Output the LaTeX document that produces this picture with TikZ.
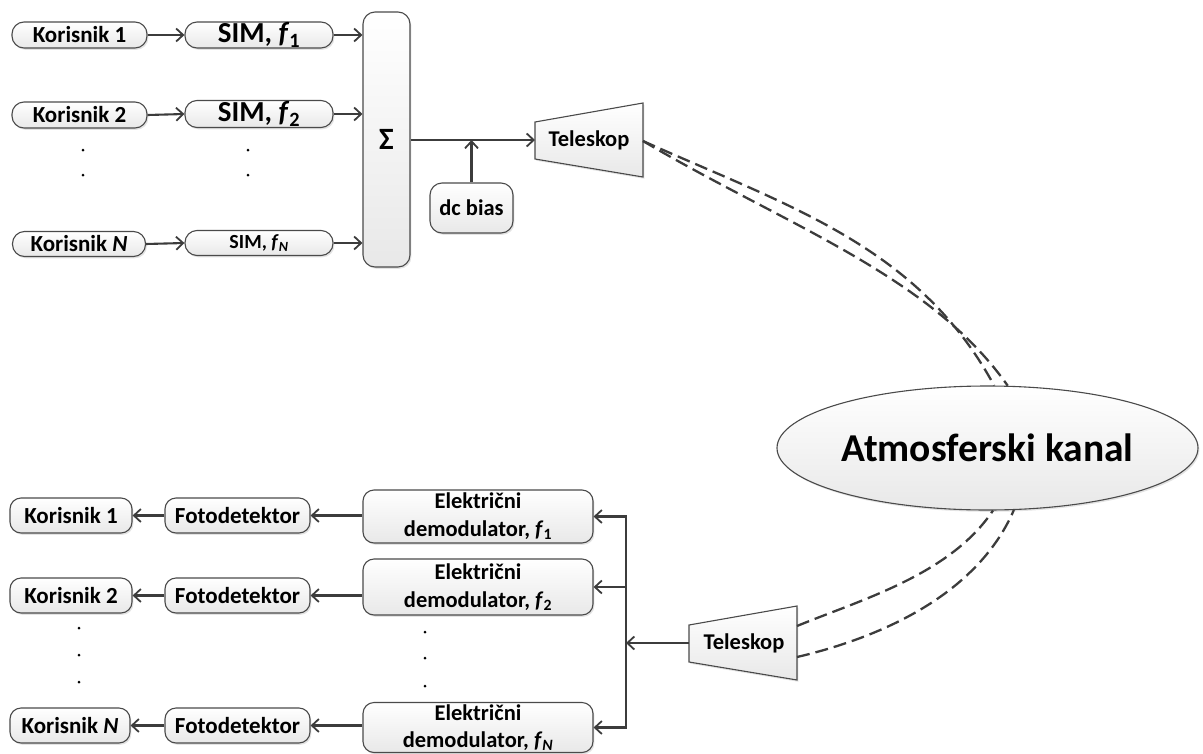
\documentclass[tikz,border=0pt]{standalone}
\usepackage{fontspec}
\setmainfont{Carlito}
\usetikzlibrary{arrows.meta,shapes.geometric,shadows}
\definecolor{ln}{HTML}{3C3C3C}
\definecolor{bd}{HTML}{4A4A4A}
\begin{document}
\begin{tikzpicture}[x=1pt,y=-1pt,
  box/.style={draw=bd, line width=1.1pt, rounded corners=11pt, top color=white, bottom color=black!9,
    drop shadow={shadow xshift=1.4pt, shadow yshift=-1.8pt, opacity=0.22}, inner sep=0pt, align=center,
    font=\bfseries\fontsize{23}{28}\selectfont},
  conn/.style={draw=ln, line width=2.1pt, -{Straight Barb[length=7pt,width=13pt,line width=1.8pt]}},
  wire/.style={draw=ln, line width=2.1pt},
  beam/.style={draw=ln, line width=2.3pt, dash pattern=on 13pt off 6pt},
  lbl/.style={font=\bfseries\fontsize{22.5}{26}\selectfont, inner sep=0pt},
  dotm/.style={fill=black}
  ]
\useasboundingbox (0,0) rectangle (1203,753);

% ---------------- transmitter ----------------
\node[box, minimum width=135pt, minimum height=26pt, rounded corners=12pt] (k1) at (79.5,35) {Korisnik 1};
\node[box, minimum width=135pt, minimum height=26pt, rounded corners=12pt] (k2) at (79.5,115) {Korisnik 2};
\node[box, minimum width=133pt, minimum height=25pt, rounded corners=12pt] (kN) at (79,244) {Korisnik \textit{N}};
\node[box, minimum width=148pt, minimum height=26pt, rounded corners=12pt, font=\bfseries\fontsize{29}{30}\selectfont] (s1) at (259,35) {SIM, \textit{f}\textsubscript{1}};
\node[box, minimum width=148pt, minimum height=27pt, rounded corners=12pt, font=\bfseries\fontsize{29}{30}\selectfont] (s2) at (259,114) {SIM, \textit{f}\textsubscript{2}};
\node[box, minimum width=148pt, minimum height=25pt, rounded corners=12pt, font=\bfseries\fontsize{20}{24}\selectfont] (sN) at (259,243) {SIM, \textit{f}\textsubscript{\textit{N}}};
\node[box, minimum width=47pt, minimum height=255pt, rounded corners=12pt, font=\bfseries\fontsize{31}{32}\selectfont] (sum) at (386.5,139.5) {Σ};
\node[box, minimum width=83pt, minimum height=50pt, rounded corners=12pt, font=\bfseries\fontsize{22.5}{26}\selectfont] (dc) at (471.5,208) {dc bias};

\fill[dotm] (83,150) circle (1.5) (83,175) circle (1.5) (248,150) circle (1.5) (248,175) circle (1.5);

\draw[draw=bd, line width=1.1pt, top color=white, bottom color=black!9,
  drop shadow={shadow xshift=1.4pt, shadow yshift=-1.8pt, opacity=0.22}]
  (535,122) -- (643,103) -- (643,177) -- (535,159) -- cycle;
\node[lbl] (tel1) at (589,140) {Teleskop};
\coordinate (tel1l) at (535,140);
\coordinate (tel1r) at (643,141);

\draw[conn] (k1.east) -- (s1.west);
\draw[conn] (k2.east) -- (s2.west);
\draw[conn] (kN.east) -- (sN.west);
\draw[conn] (s1.east) -- (s1.east -| sum.west);
\draw[conn] (s2.east) -- (s2.east -| sum.west);
\draw[conn] (sN.east) -- (sN.east -| sum.west);
\draw[conn] (sum.east |- tel1l) -- (tel1l);
\draw[conn] (dc.north) -- (dc.north |- tel1l);

% ---------------- channel ----------------
\node[ellipse, draw=bd, line width=1.1pt, top color=white, bottom color=black!9,
  drop shadow={shadow xshift=1.4pt, shadow yshift=-1.8pt, opacity=0.22},
  minimum width=421pt, minimum height=124pt, inner sep=0pt,
  font=\bfseries\fontsize{39.5}{42}\selectfont] (atm) at (987.5,448) {Atmosferski kanal};

\draw[beam] (tel1r) .. controls (785,205) and (918,245) .. (atm.84);
\draw[beam] (tel1r) .. controls (785,225) and (930,275) .. (atm.72);

% ---------------- receiver ----------------
\draw[draw=bd, line width=1.1pt, top color=white, bottom color=black!9,
  drop shadow={shadow xshift=1.4pt, shadow yshift=-1.8pt, opacity=0.22}]
  (689,625) -- (797,606) -- (797,680) -- (689,662) -- cycle;
\node[lbl] (tel2) at (744,643) {Teleskop};
\coordinate (tel2l) at (689,643);
\coordinate (tel2ru) at (797,626);
\coordinate (tel2rd) at (797,657);

\draw[beam] (tel2ru) .. controls (860,600) and (950,575) .. (atm.-85);
\draw[beam] (tel2rd) .. controls (870,640) and (975,600) .. (atm.-67);

\node[box, minimum width=230pt, minimum height=53pt, font=\bfseries\fontsize{22.5}{28}\selectfont] (d1) at (478,516.5) {Električni\\demodulator, \textit{f}\textsubscript{1}};
\node[box, minimum width=230pt, minimum height=56pt, font=\bfseries\fontsize{22.5}{28}\selectfont] (d2) at (478,587) {Električni\\demodulator, \textit{f}\textsubscript{2}};
\node[box, minimum width=230pt, minimum height=50pt, font=\bfseries\fontsize{22.5}{27}\selectfont] (dN) at (478,727.5) {Električni\\demodulator, \textit{f}\textsubscript{\textit{N}}};

\node[box, minimum width=145pt, minimum height=35pt] (bf1) at (237.5,515.5) {Fotodetektor};
\node[box, minimum width=145pt, minimum height=35pt] (bf2) at (237.5,595.5) {Fotodetektor};
\node[box, minimum width=145pt, minimum height=35pt] (bfN) at (237.5,725.5) {Fotodetektor};
\node[box, minimum width=122pt, minimum height=35pt] (bk1) at (71,515.5) {Korisnik 1};
\node[box, minimum width=122pt, minimum height=35pt] (bk2) at (71,595.5) {Korisnik 2};
\node[box, minimum width=120pt, minimum height=35pt] (bkN) at (70,725.5) {Korisnik \textit{N}};

\fill[dotm] (79,628) circle (1.5) (79,655) circle (1.5) (79,682) circle (1.5);
\fill[dotm] (425,632) circle (1.5) (425,658) circle (1.5) (425,686) circle (1.5);

\coordinate (busT) at (626,516.5);
\coordinate (busB) at (626,727.5);
\draw[wire, line cap=rect] (busT) -- (busB);
\draw[conn] (busT) -- (d1.east);
\draw[conn] (busT |- d2.east) -- (d2.east);
\draw[conn] (busB) -- (dN.east);
\draw[conn] (tel2l) -- (tel2l -| busT);

\draw[conn] (bf1.east -| d1.west) -- (bf1.east);
\draw[conn] (bf2.east -| d2.west) -- (bf2.east);
\draw[conn] (bfN.east -| dN.west) -- (bfN.east);
\draw[conn] (bf1.west) -- (bk1.east);
\draw[conn] (bf2.west) -- (bk2.east);
\draw[conn] (bfN.west) -- (bkN.east);
\end{tikzpicture}
\end{document}
